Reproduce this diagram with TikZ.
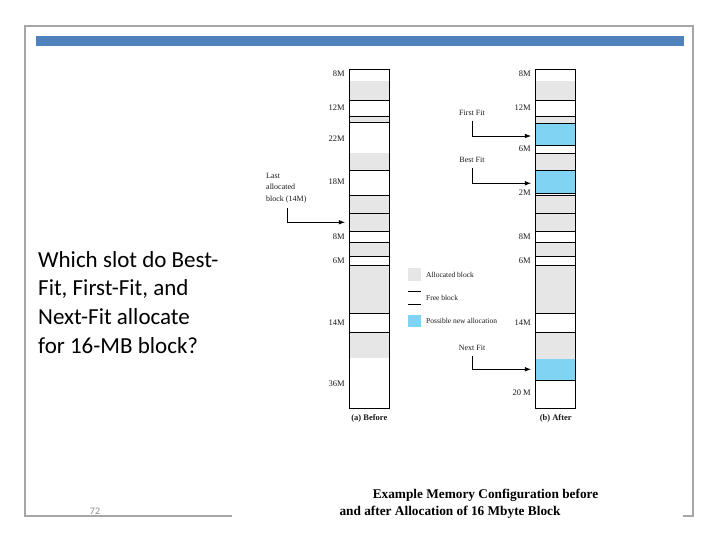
\documentclass[tikz,border=0pt]{standalone}
\usepackage{fontspec}
\setmainfont{Liberation Serif}
\newfontfamily\slidefont{Carlito}
\usetikzlibrary{arrows.meta,positioning}
\definecolor{memBar}{HTML}{4F81BD}
\definecolor{memFrame}{HTML}{A6A6A6}
\definecolor{memGray}{HTML}{E6E6E6}
\definecolor{memBlue}{HTML}{80D3F3}
\definecolor{memInk}{HTML}{1A1A1A}
\definecolor{memPage}{HTML}{8C8C8C}

\begin{document}
\begin{tikzpicture}[x=1pt,y=-1pt,>=Latex,line join=miter]
\path[fill=white] (0,0) rectangle (720,540);
\tikzset{frame/.style={draw=memFrame,line width=2pt},alloc/.style={fill=memGray},freeblk/.style={fill=white},newblk/.style={fill=memBlue},edge/.style={draw=black,line width=0.9pt},size/.style={font=\fontsize{8.5}{9}\selectfont,anchor=east,text=memInk,inner sep=1pt},lbl/.style={font=\fontsize{8}{11.5}\selectfont,text=memInk,inner sep=1pt},pointer/.style={draw=black,line width=0.7pt,->,shorten <=4pt}}
\draw[frame] (232,516) -| (25,26) -| (693,516) -- (683,516);
\path[fill=memBar] (36,36.5) rectangle (684,46);
\node[anchor=north west,align=left,inner sep=0pt,font=\slidefont\fontsize{23}{28.7}\selectfont] (question) at (38,251) {Which slot do Best-\\Fit, First-Fit, and\\Next-Fit allocate\\for 16-MB block?};
\node[font=\slidefont\fontsize{10}{12}\selectfont,text=memPage] (pagenum) at (95,511) {72};
% before
\foreach \ya/\yb/\st in {69.3/80.7/freeblk,80.7/100/alloc,100/116/freeblk,116/122.7/alloc,122.7/153.3/freeblk,153.3/170/alloc,170/195/freeblk,195/231.7/alloc,231.7/242.3/freeblk,242.3/256.7/alloc,256.7/265/freeblk,265/313.3/alloc,313.3/332.7/freeblk,332.7/358.3/alloc,358.3/408.3/freeblk}
  \path[\st] (349.3,\ya) rectangle (389.3,\yb);
\foreach \y in {100,116,122.7,170,195,213,231.7,242.3,256.7,265,313.3,332.7}
  \draw[edge] (349.3,\y) -- (389.3,\y);
\draw[edge] (349.3,69.3) rectangle (389.3,408.3);
\foreach \t/\y [count=\i] in {8M/74,12M/108,22M/139,18M/182,8M/237,6M/261,14M/323,36M/384}
  \node[size] (bsz\i) at (346,\y) {\t};
\node[lbl,font=\bfseries\fontsize{8.5}{9}\selectfont] (beforelbl) at (369.3,418) {(a) Before};
% after
\foreach \ya/\yb/\st in {69.3/80.7/freeblk,80.7/100/alloc,100/116/freeblk,116/123.3/alloc,123.3/145/newblk,145/153.3/freeblk,153.3/170/alloc,170/193.3/newblk,193.3/195.7/freeblk,195.7/231.7/alloc,231.7/242.3/freeblk,242.3/256.7/alloc,256.7/265/freeblk,265/313.3/alloc,313.3/332.7/freeblk,332.7/359.3/alloc,359.3/380/newblk,380/408.3/freeblk}
  \path[\st] (535.7,\ya) rectangle (575.7,\yb);
\foreach \y in {100,116,123.3,145,153.3,170,193.3,195.7,213,231.7,242.3,256.7,265,313.3,332.7,380}
  \draw[edge] (535.7,\y) -- (575.7,\y);
\draw[edge] (535.7,69.3) rectangle (575.7,408.3);
\foreach \t/\y [count=\i] in {8M/74,12M/108,6M/149,2M/193,8M/237,6M/261,14M/323,20 M/393}
  \node[size] (asz\i) at (532,\y) {\t};
\node[lbl,font=\bfseries\fontsize{8.5}{9}\selectfont] (afterlbl) at (555.7,418) {(b) After};
% pointers
\node[lbl,anchor=north west,align=left] (lastlbl) at (265,172) {Last\\allocated\\block (14M)};
\coordinate (lasttip) at (345,222.3);
\draw[pointer] ([xshift=22pt]lastlbl.south west) |- (lasttip);
\node[lbl] (firstlbl) at (472,113) {First Fit};
\coordinate (firsttip) at (531,136);
\draw[pointer] (firstlbl.south) |- (firsttip);
\node[lbl] (bestlbl) at (472,160) {Best Fit};
\coordinate (besttip) at (531,183.3);
\draw[pointer] (bestlbl.south) |- (besttip);
\node[lbl] (nextlbl) at (472,348) {Next Fit};
\coordinate (nexttip) at (531,369.3);
\draw[pointer] (nextlbl.south) |- (nexttip);
% legend
\path[alloc] (408,268.3) rectangle (420.7,281);
\draw[edge,line width=0.6pt] (408,291.3) -- (420.7,291.3) (408,304) -- (420.7,304);
\path[newblk] (408,315.3) rectangle (420.7,327.3);
\node[lbl,anchor=west,font=\fontsize{7.5}{9}\selectfont] (allockey) at (425,275) {Allocated block};
\node[lbl,anchor=west,font=\fontsize{7.5}{9}\selectfont] (freekey) at (425,298) {Free block};
\node[lbl,anchor=west,font=\fontsize{7.5}{9}\selectfont] (newkey) at (425,321) {Possible new allocation};
% caption
\node[font=\bfseries\fontsize{13.3}{15}\selectfont] (captop) at (485.5,495) {Example Memory Configuration before};
\node[font=\bfseries\fontsize{13.3}{15}\selectfont] (capbot) at (450,512) {and after Allocation of 16 Mbyte Block};
\end{tikzpicture}
\end{document}
